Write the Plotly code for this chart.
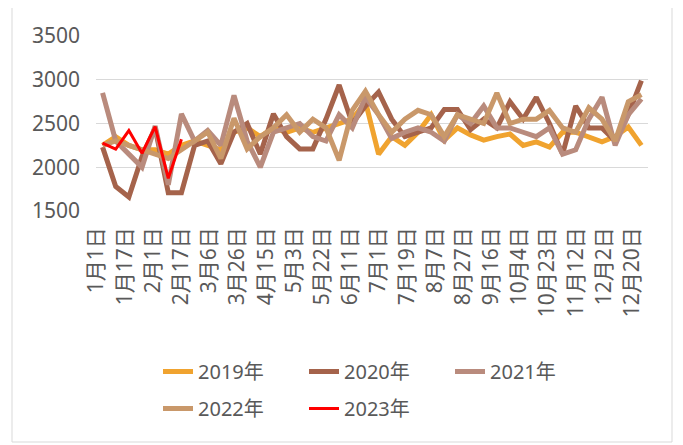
import plotly.graph_objects as go

# ---- data ----
tick_labels = ["1月1日", "1月17日", "2月1日", "2月17日", "3月6日", "3月26日", "4月15日",
               "5月3日", "5月22日", "6月11日", "7月1日", "7月19日", "8月7日", "8月27日",
               "9月16日", "10月4日", "10月23日", "11月12日", "12月2日", "12月20日"]

y2019 = [2250, 2350, 2250, 2200, 2200, 2150, 2250, 2300, 2250, 2200, 2400, 2450, 2350, 2450,
         2400, 2450, 2400, 2450, 2500, 2550, 2750, 2150, 2350, 2250, 2400, 2600, 2310, 2450,
         2370, 2310, 2350, 2380, 2250, 2290, 2230, 2400, 2400, 2350, 2290, 2350, 2460, 2250]
y2020 = [2230, 1780, 1660, 2120, 2450, 1710, 1710, 2250, 2300, 2040, 2400, 2500, 2150, 2610,
         2350, 2210, 2210, 2550, 2940, 2500, 2700, 2860, 2550, 2350, 2400, 2450, 2660, 2660,
         2430, 2550, 2450, 2750, 2550, 2800, 2500, 2150, 2700, 2450, 2450, 2300, 2600, 2990]
y2021 = [2850, 2300, 2150, 2000, 2470, 1800, 2610, 2300, 2420, 2250, 2820, 2300, 2000, 2400,
         2450, 2500, 2350, 2300, 2600, 2450, 2800, 2600, 2330, 2400, 2450, 2400, 2300, 2600,
         2500, 2700, 2450, 2450, 2400, 2350, 2450, 2150, 2200, 2550, 2800, 2250, 2600, 2780]
y2022 = [2250, 2300, 2250, 2200, 2150, 2100, 2200, 2300, 2400, 2100, 2560, 2210, 2350, 2450,
         2600, 2400, 2550, 2450, 2080, 2650, 2870, 2600, 2400, 2550, 2650, 2600, 2350, 2600,
         2550, 2500, 2850, 2500, 2550, 2550, 2650, 2450, 2400, 2680, 2550, 2300, 2750, 2830]
y2023 = [2275, 2206, 2419, 2160, 2465, 1874, 2320]

series = [
    ("2019年", y2019, "#F0A32F", 5, "legend"),
    ("2020年", y2020, "#A5634B", 5, "legend"),
    ("2021年", y2021, "#B98B7D", 5, "legend"),
    ("2022年", y2022, "#C9986A", 5, "legend2"),
    ("2023年", y2023, "#FF0000", 3, "legend2"),
]

# page body has an 8px margin, so figure pixel = screen pixel - 8
OFF = 8
W, H = 683, 445
L, T = 96 - OFF, 36 - OFF
PW, PH = 552, 175
R, B = W - L - PW, H - T - PH

def px_x(p):  # screen pixel -> paper x
    return (p - OFF - L) / PW

def px_y(p):  # screen pixel -> paper y
    return (T + PH - (p - OFF)) / PH

n = len(y2019)
fig = go.Figure()
for name, ys, color, w, lg in series:
    fig.add_trace(go.Scatter(x=list(range(len(ys))), y=ys, mode="lines", name=name,
                             line=dict(color=color, width=w), legend=lg))

# label positions along the category axis (labels span the axis evenly)
first_lab, last_lab = -0.45, 40.3
step = (last_lab - first_lab) / (len(tick_labels) - 1)
tickvals = [first_lab + k * step for k in range(len(tick_labels))]

font_family = "Noto Sans, Noto Sans CJK SC, sans-serif"
legend_common = dict(orientation="h", xanchor="left", yanchor="top",
                     font=dict(size=20, color="#595959"), entrywidth=101,
                     entrywidthmode="pixels", tracegroupgap=0, itemwidth=30,
                     bgcolor="rgba(0,0,0,0)")
fig.update_layout(
    width=W, height=H,
    margin=dict(l=L, r=R, t=T, b=B, autoexpand=False),
    paper_bgcolor="white", plot_bgcolor="white",
    font=dict(family=font_family, size=20, color="#595959"),
    showlegend=True,
    legend=dict(x=px_x(158), y=px_y(352), **legend_common),
    legend2=dict(x=px_x(158), y=px_y(389), **legend_common),
    xaxis=dict(range=[-0.5, n - 0.5], tickmode="array", tickvals=tickvals,
               ticktext=tick_labels, tickangle=-90, showgrid=False, zeroline=False,
               showline=False, ticks="", ticklabelstandoff=11,
               tickfont=dict(size=21, color="#595959")),
    yaxis=dict(range=[1500, 3500], tickvals=[1500, 2000, 2500, 3000, 3500],
               showgrid=True, gridcolor="#D9D9D9", gridwidth=1.3, zeroline=False,
               showline=False, ticks="", ticklabelstandoff=15,
               tickfont=dict(size=21, color="#595959")),
)
# light chart border
fig.add_shape(type="rect", xref="paper", yref="paper",
              x0=px_x(12), x1=px_x(672), y0=px_y(442), y1=px_y(2),
              line=dict(color="#D9D9D9", width=1), fillcolor="rgba(0,0,0,0)", layer="below")

fig.write_html("out.html")
